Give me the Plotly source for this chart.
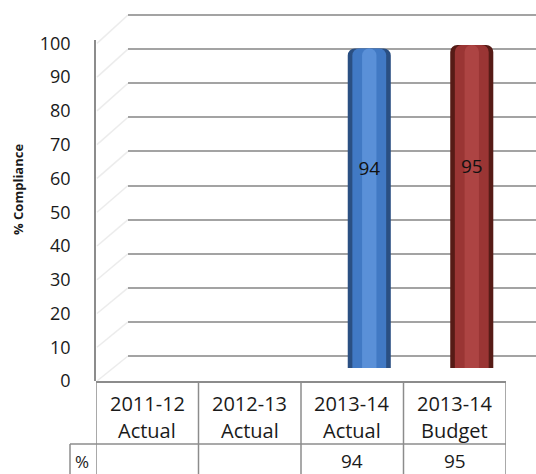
import plotly.graph_objects as go

# ---- data ----
periods = ["2011-12", "2012-13", "2013-14", "2013-14"]
kinds = ["Actual", "Actual", "Actual", "Budget"]
values = [None, None, 94, 95]
y_ticks = list(range(0, 101, 10))
row_label = "%"
y_title = "% Compliance"

# ---- styles ----
W, H = 536, 474
dark_cols = ["#2a4f82", "#2a4f82", "#2a4f82", "#561b16"]
mid_cols = ["#4179c4", "#4179c4", "#4179c4", "#9a3534"]
hi_cols = ["#5a90d8", "#5a90d8", "#5a90d8", "#ad4443"]

FONT = "Open Sans"
TXT = "#1a1a1a"
LINE = "#8c8c8c"

idx = list(range(len(periods)))
shift = 0.166  # 3-D perspective shift of bars within their column


def px_y(p):
    return 1 - p / H


ydom = [px_y(381), px_y(10)]

fig = go.Figure()

# back-wall gridlines (subplot 1)
fig.add_trace(go.Scatter(x=[0.5], y=[50], xaxis="x", yaxis="y", mode="markers",
                         marker=dict(opacity=0), showlegend=False, hoverinfo="skip"))

# cylinder-like bars (subplot 2) built from overlaid bars
for w, cols in [(0.42, dark_cols), (0.33, mid_cols), (0.14, hi_cols)]:
    fig.add_trace(go.Bar(
        x=idx, y=values, xaxis="x2", yaxis="y2",
        width=w, offset=-w / 2 + shift,
        marker=dict(color=cols, line=dict(width=0), cornerradius=7),
        showlegend=False, hoverinfo="skip"))

# data labels
lab_x = [i + shift for i, v in zip(idx, values) if v is not None]
lab_y = [v * 0.62 for v in values if v is not None]
lab_t = [str(v) for v in values if v is not None]
fig.add_trace(go.Scatter(x=lab_x, y=lab_y, text=lab_t, mode="text", xaxis="x2", yaxis="y2",
                         textfont=dict(family=FONT, size=19, color="#111"),
                         showlegend=False, hoverinfo="skip"))

# value axis with tick labels
fig.add_trace(go.Scatter(x=[0], y=[0], xaxis="x2", yaxis="y3", mode="markers",
                         marker=dict(opacity=0), showlegend=False, hoverinfo="skip"))

# ---- side-wall perspective strokes (faint decoration) ----
shapes = []
for t in y_ticks:
    y_front = 381 - t * 3.376
    y_back = 356 - t * 3.41
    shapes.append(dict(type="line", xref="paper", yref="paper",
                       x0=97 / W, x1=128 / W, y0=px_y(y_front), y1=px_y(y_back),
                       line=dict(color="#ececec", width=1.5), layer="below"))

# ---- data table below the plot ----
table_top, mid_line, bottom = px_y(381), px_y(444), 0
for b in [i - 0.5 for i in idx] + [idx[-1] + 0.5]:
    shapes.append(dict(type="line", xref="x2", yref="paper", x0=b, x1=b,
                       y0=bottom, y1=table_top, line=dict(color=LINE, width=1.5)))
shapes.append(dict(type="line", xref="paper", yref="paper", x0=70 / W, x1=506 / W,
                   y0=mid_line, y1=mid_line, line=dict(color=LINE, width=1.5)))
shapes.append(dict(type="line", xref="paper", yref="paper", x0=70 / W, x1=70 / W,
                   y0=bottom, y1=mid_line, line=dict(color=LINE, width=1.5)))

annotations = []
cell_font = dict(family=FONT, size=20, color=TXT)
for i in idx:
    annotations.append(dict(x=i, y=px_y(403), xref="x2", yref="paper", text=periods[i],
                            xanchor="center", yanchor="middle", showarrow=False, font=cell_font))
    annotations.append(dict(x=i, y=px_y(430), xref="x2", yref="paper", text=kinds[i],
                            xanchor="center", yanchor="middle", showarrow=False, font=cell_font))
    if values[i] is not None:
        annotations.append(dict(x=i, y=px_y(461), xref="x2", yref="paper", text=str(values[i]),
                                xanchor="center", yanchor="middle", showarrow=False,
                                font=dict(family=FONT, size=19, color=TXT)))
annotations.append(dict(x=82 / W, y=px_y(461), xref="paper", yref="paper", text=row_label,
                        xanchor="center", yanchor="middle", showarrow=False,
                        font=dict(family=FONT, size=17, color=TXT)))
annotations.append(dict(x=18 / W, y=px_y(190), xref="paper", yref="paper",
                        text="<b>" + y_title + "</b>", textangle=-90, showarrow=False,
                        xanchor="center", yanchor="middle",
                        font=dict(family=FONT, size=13, color=TXT)))

fig.update_layout(
    template="none",
    width=W, height=H, margin=dict(l=0, r=0, t=0, b=0, pad=0), autosize=False,
    paper_bgcolor="white", plot_bgcolor="rgba(0,0,0,0)",
    barmode="overlay", showlegend=False,
    font=dict(family=FONT, color=TXT),
    xaxis=dict(domain=[128 / W, 1], range=[0, 1], visible=False, anchor="y", automargin=False),
    yaxis=dict(domain=ydom, anchor="x", range=[-7.33, 101.47], tick0=0, dtick=10,
               showgrid=True, gridcolor="#a3a3a3", gridwidth=1.5, zeroline=False,
               showticklabels=False, ticks="", automargin=False),
    xaxis2=dict(domain=[96 / W, 506 / W], range=[-0.5, 3.5], anchor="y2",
                showticklabels=False, showgrid=False, zeroline=False, ticks="",
                showline=True, linecolor=LINE, linewidth=1.5, automargin=False),
    yaxis2=dict(domain=ydom, anchor="x2", range=[-3.82, 105.3], visible=False, automargin=False),
    yaxis3=dict(domain=[px_y(381), px_y(40)], anchor="x2", range=[0, 101],
                tickvals=y_ticks, showgrid=False, zeroline=False, ticks="",
                showline=True, linecolor=LINE, linewidth=1.5, automargin=False,
                ticklabelstandoff=20, tickfont=dict(family=FONT, size=18, color=TXT)),
    shapes=shapes, annotations=annotations,
)

fig.write_html("out.html")
